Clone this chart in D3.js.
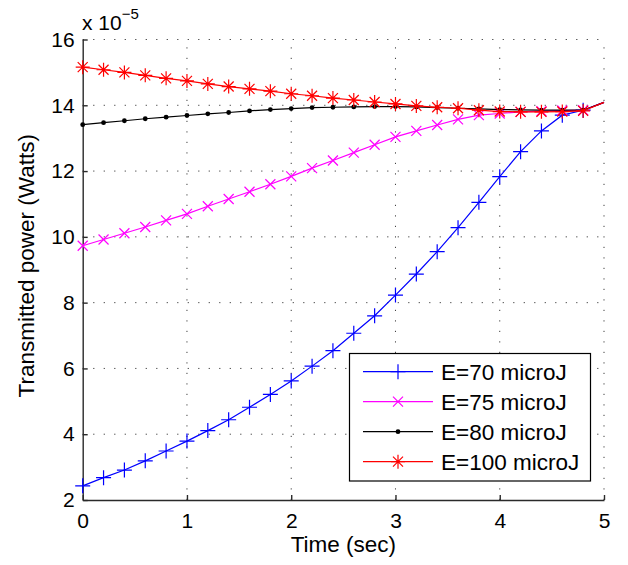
<!DOCTYPE html>
<html lang="en">
<head>
    <meta charset="UTF-8">
    <title>Transmitted power vs time</title>
    <script src="https://d3js.org/d3.v7.min.js"></script>
    <style>
        body { margin: 0; background: #fff; }
        svg { font-family: "Liberation Sans", Arial, Helvetica, sans-serif; }
        .grid line { stroke: #000; stroke-width: 1; stroke-dasharray: 1.2, 9.3; opacity: 0.75; }
        .axis path, .axis line { stroke: #2a2a2a; stroke-width: 1.4; }
        .axis text { font-size: 21px; fill: #000; }
    </style>
</head>
<body>
<svg width="628" height="565"></svg>
<script>
    // Time samples (sec); markers are shown on all points but the final one
    const time = [0, 0.2, 0.4, 0.6, 0.8, 1.0, 1.2, 1.4, 1.6, 1.8, 2.0, 2.2, 2.4,
        2.6, 2.8, 3.0, 3.2, 3.4, 3.6, 3.8, 4.0, 4.2, 4.4, 4.6, 4.8, 5.0];

    // Transmitted power, in units of 1e-5 W
    const e70 = [2.43, 2.68, 2.91, 3.19, 3.49, 3.79, 4.11, 4.44, 4.82, 5.21, 5.62, 6.07, 6.54,
        7.07, 7.60, 8.23, 8.87, 9.55, 10.28, 11.05, 11.83, 12.59, 13.22, 13.70, 13.85, 14.09];
    const e75 = [9.73, 9.92, 10.11, 10.30, 10.50, 10.70, 10.93, 11.15, 11.37, 11.60, 11.84, 12.09, 12.32,
        12.56, 12.80, 13.04, 13.22, 13.40, 13.57, 13.70, 13.75, 13.80, 13.82, 13.84, 13.85, 14.09];
    const e80 = [13.41, 13.47, 13.53, 13.59, 13.64, 13.69, 13.74, 13.78, 13.83, 13.87, 13.90, 13.93, 13.94,
        13.95, 13.96, 13.96, 13.95, 13.93, 13.91, 13.89, 13.87, 13.86, 13.85, 13.85, 13.85, 14.09];
    const e100 = [15.16, 15.08, 15.00, 14.91, 14.82, 14.74, 14.65, 14.57, 14.50, 14.43, 14.35, 14.29, 14.22,
        14.16, 14.10, 14.04, 13.98, 13.94, 13.91, 13.85, 13.81, 13.80, 13.80, 13.81, 13.83, 14.09];

    const seriesNames = ["E=70 microJ", "E=75 microJ", "E=80 microJ", "E=100 microJ"];
    const seriesValues = [e70, e75, e80, e100];
    const seriesColors = ["#0000ff", "#ff00ff", "#000000", "#ff0000"];
    const seriesMarkers = ["plus", "cross", "dot", "star"];

    const xTicks = [0, 1, 2, 3, 4, 5];
    const yTicks = [2, 4, 6, 8, 10, 12, 14, 16];
    const exponent = -5;

    const svg = d3.select("svg");
    const plot = { left: 82.7, right: 604, top: 39.5, bottom: 500 };

    const x = d3.scaleLinear().domain([0, 5]).range([plot.left, plot.right]);
    const y = d3.scaleLinear().domain([2, 16]).range([plot.bottom, plot.top]);

    // Dotted grid
    const grid = svg.append("g").attr("class", "grid");
    grid.selectAll(".gx").data(xTicks.slice(1)).enter().append("line")
        .attr("x1", d => x(d)).attr("x2", d => x(d))
        .attr("y1", plot.bottom).attr("y2", plot.top);
    grid.selectAll(".gy").data(yTicks.slice(1)).enter().append("line")
        .attr("x1", plot.left).attr("x2", plot.right)
        .attr("y1", d => y(d)).attr("y2", d => y(d));

    // Axes, ticks pointing inward
    svg.append("g")
        .attr("class", "axis")
        .attr("transform", `translate(0,${plot.bottom})`)
        .call(d3.axisBottom(x).tickValues(xTicks).tickFormat(d3.format("d"))
            .tickSizeInner(-5).tickSizeOuter(0).tickPadding(13));
    svg.append("g")
        .attr("class", "axis")
        .attr("transform", `translate(${plot.left},0)`)
        .call(d3.axisLeft(y).tickValues(yTicks).tickFormat(d3.format("d"))
            .tickSizeInner(-5).tickSizeOuter(0).tickPadding(8));

    // Marker shapes
    const drawMarker = (sel, kind, color) => {
        if (kind === "plus") {
            sel.append("path").attr("d", "M-7.5,0H7.5M0,-7.5V7.5");
        } else if (kind === "cross") {
            sel.append("path").attr("d", "M-5,-5L5,5M-5,5L5,-5");
        } else if (kind === "star") {
            sel.append("path").attr("d", "M-7,0H7M0,-7V7M-5,-5L5,5M-5,5L5,-5");
        } else {
            sel.append("circle").attr("r", 2.4).attr("fill", color);
        }
        sel.selectAll("path").attr("stroke", color).attr("stroke-width", 1.2).attr("fill", "none");
    };

    const line = d3.line().x((d, i) => x(time[i])).y(d => y(d));

    seriesValues.forEach((vals, s) => {
        const g = svg.append("g");
        g.append("path")
            .datum(vals)
            .attr("d", line)
            .attr("fill", "none")
            .attr("stroke", seriesColors[s])
            .attr("stroke-width", 1.2);
        const pts = vals.map((v, i) => ({ t: time[i], v })).filter(p => p.t < 5);
        g.selectAll(".m").data(pts).enter().append("g")
            .attr("transform", d => `translate(${x(d.t)},${y(d.v)})`)
            .each(function () { drawMarker(d3.select(this), seriesMarkers[s], seriesColors[s]); });
    });

    // Exponent label
    const expText = svg.append("text")
        .attr("x", 82).attr("y", 30)
        .attr("font-size", 21);
    expText.append("tspan").text("x 10");
    expText.append("tspan").attr("dy", -11).attr("font-size", 15).text("\u2212" + Math.abs(exponent));

    // Axis labels
    svg.append("text")
        .attr("x", (plot.left + plot.right) / 2).attr("y", 552)
        .attr("text-anchor", "middle").attr("font-size", 22.5)
        .text("Time (sec)");
    svg.append("text")
        .attr("transform", `translate(34,${(plot.top + plot.bottom) / 2 - 4}) rotate(-90)`)
        .attr("text-anchor", "middle").attr("font-size", 22.5)
        .text("Transmitted power (Watts)");

    // Legend
    const legend = svg.append("g");
    legend.append("rect")
        .attr("x", 349.5).attr("y", 353.5).attr("width", 241).attr("height", 127.5)
        .attr("fill", "#fff").attr("stroke", "#000").attr("stroke-width", 1.2);
    const rowY = d3.scalePoint().domain(seriesNames).range([371.7, 461.7]);
    seriesNames.forEach((name, s) => {
        const row = legend.append("g").attr("transform", `translate(0,${rowY(name)})`);
        row.append("line").attr("x1", 363).attr("x2", 433).attr("y1", 0).attr("y2", 0)
            .attr("stroke", seriesColors[s]).attr("stroke-width", 1.2);
        drawMarker(row.append("g").attr("transform", "translate(398,0)"), seriesMarkers[s], seriesColors[s]);
        row.append("text").attr("x", 441).attr("y", 0).attr("dy", "0.35em")
            .attr("font-size", 22.5).text(name);
    });
</script>
</body>
</html>
